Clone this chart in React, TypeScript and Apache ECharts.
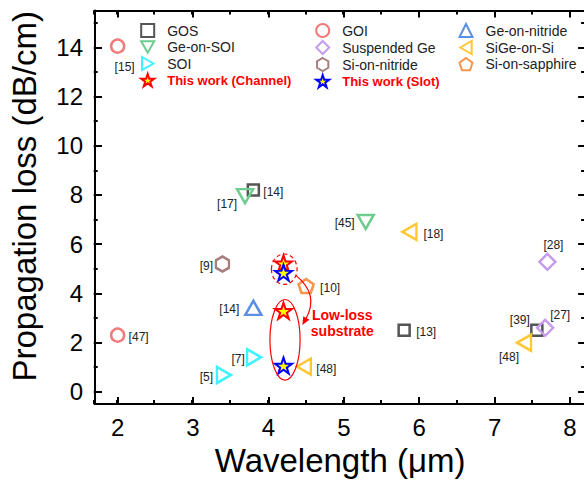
import React, { useEffect, useRef } from 'react';
import * as echarts from 'echarts';

// ---------- data ----------
const GOS_X = [3.8, 5.8, 7.56];
const GOS_Y = [8.2, 2.5, 2.5];
const GOS_REF = ['[14]', '[13]', '[39]'];

const GE_ON_SOI_X = [3.69, 5.29];
const GE_ON_SOI_Y = [7.95, 6.9];
const GE_ON_SOI_REF = ['[17]', '[45]'];

const SOI_X = [3.81, 3.41];
const SOI_Y = [1.4, 0.68];
const SOI_REF = ['[7]', '[5]'];

const GOI_X = [2.0, 2.0];
const GOI_Y = [14.05, 2.3];
const GOI_REF = ['[15]', '[47]'];

const SUSP_GE_X = [7.7, 7.67];
const SUSP_GE_Y = [5.28, 2.6];
const SUSP_GE_REF = ['[28]', '[27]'];

const SI_ON_NITRIDE_X = [3.39];
const SI_ON_NITRIDE_Y = [5.19];
const SI_ON_NITRIDE_REF = ['[9]'];

const GE_ON_NITRIDE_X = [3.8];
const GE_ON_NITRIDE_Y = [3.41];
const GE_ON_NITRIDE_REF = ['[14]'];

const SIGE_X = [5.87, 4.47, 7.39];
const SIGE_Y = [6.5, 1.02, 1.99];
const SIGE_REF = ['[18]', '[48]', '[48]'];

const SAPPHIRE_X = [4.5];
const SAPPHIRE_Y = [4.3];
const SAPPHIRE_REF = ['[10]'];

const CHANNEL_X = [4.2, 4.2];
const CHANNEL_Y = [5.22, 3.29];

const SLOT_X = [4.2, 4.2];
const SLOT_Y = [4.84, 1.06];

const X_MIN = 1.7;
const X_MAX = 8.2;
const Y_MIN = -0.5;
const Y_MAX = 15.5;

// annotations (data coordinates): cx, cy, rx, ry
const DASHED_ELLIPSE = [4.21, 4.98, 0.17, 0.62];
const SOLID_ELLIPSE = [4.22, 2.11, 0.2, 1.64];
const ARROW_START = [4.36, 4.74];
const ARROW_CTRL = [4.68, 3.95];
const ARROW_END = [4.45, 2.71];
const NOTE_POS = [4.98, 2.81];
const NOTE_TEXT = 'Low-loss\nsubstrate';

// ---------- styles ----------
const FONT = 'Liberation Sans, Arial, Helvetica, sans-serif';
const STAR = 'path://M50,0 L61.8,35.1 L98.1,35.1 L68.8,56.8 L79.4,90.9 L50,69.1 L20.6,90.9 L31.2,56.8 L1.9,35.1 L38.2,35.1 Z';
const HEXAGON = 'path://M0,-10 L8.66,-5 L8.66,5 L0,10 L-8.66,5 L-8.66,-5 Z';
const PENTAGON = 'path://M0,-10 L9.51,-3.09 L5.88,8.09 L-5.88,8.09 L-9.51,-3.09 Z';
const TRI_DOWN = 'path://M0,0 L16,0 L8,14 Z';
const TRI_LEFT = 'path://M0,8 L14,0 L14,16 Z';
const TRI_RIGHT = 'path://M0,0 L14,8 L0,16 Z';

type Def = {
  name: string; x: number[]; y: number[]; refs?: string[]; offsets?: number[][];
  symbol: string; size: number | number[]; color: string; fill?: string; bw?: number;
};

const DEFS: Def[] = [
  { name: 'GOS', x: GOS_X, y: GOS_Y, refs: GOS_REF, offsets: [[20, 2], [22, 2], [-17, -10]], symbol: 'rect', size: 11, color: '#555555' },
  { name: 'Ge-on-SOI', x: GE_ON_SOI_X, y: GE_ON_SOI_Y, refs: GE_ON_SOI_REF, offsets: [[-18, 8], [-21, 1]], symbol: TRI_DOWN, size: [16, 14], color: '#6dcd8e' },
  { name: 'SOI', x: SOI_X, y: SOI_Y, refs: SOI_REF, offsets: [[-16, 2], [-17.5, 2]], symbol: TRI_RIGHT, size: [14, 16], color: '#3ff2ff' },
  { name: 'GOI', x: GOI_X, y: GOI_Y, refs: GOI_REF, offsets: [[7, 21], [21, 1.5]], symbol: 'circle', size: 13, color: '#f27a7a' },
  { name: 'Suspended Ge', x: SUSP_GE_X, y: SUSP_GE_Y, refs: SUSP_GE_REF, offsets: [[6, -17], [15, -13]], symbol: 'diamond', size: 16, color: '#c69cec' },
  { name: 'Si-on-nitride', x: SI_ON_NITRIDE_X, y: SI_ON_NITRIDE_Y, refs: SI_ON_NITRIDE_REF, offsets: [[-16, 2]], symbol: HEXAGON, size: [13, 15], color: '#a67e7e' },
  { name: 'Ge-on-nitride', x: GE_ON_NITRIDE_X, y: GE_ON_NITRIDE_Y, refs: GE_ON_NITRIDE_REF, offsets: [[-24, 1]], symbol: 'triangle', size: [16, 14], color: '#5b8fe6' },
  { name: 'SiGe-on-Si', x: SIGE_X, y: SIGE_Y, refs: SIGE_REF, offsets: [[24, 2], [22.5, 2.5], [-15, 14]], symbol: TRI_LEFT, size: [14, 16], color: '#ffc733' },
  { name: 'Si-on-sapphire', x: SAPPHIRE_X, y: SAPPHIRE_Y, refs: SAPPHIRE_REF, offsets: [[24, 2]], symbol: PENTAGON, size: [15, 14], color: '#f8954a' },
  { name: 'This work (Channel)', x: CHANNEL_X, y: CHANNEL_Y, symbol: STAR, size: [17, 16], color: '#ff0000', fill: '#ffff00', bw: 2 },
  { name: 'This work (Slot)', x: SLOT_X, y: SLOT_Y, symbol: STAR, size: [17, 16], color: '#0000ff', fill: '#ffff00', bw: 2 },
];

const LEGEND_COLS = [
  { left: 140.2, items: ['GOS', 'Ge-on-SOI', 'SOI', 'This work (Channel)'] },
  { left: 315.2, items: ['GOI', 'Suspended Ge', 'Si-on-nitride', 'This work (Slot)'] },
  { left: 458.5, items: ['Ge-on-nitride', 'SiGe-on-Si', 'Si-on-sapphire'] },
];

const isInt = (v: number) => Math.abs(v - Math.round(v)) < 1e-6;

function xAxis(gridIndex: number, position: string, major: boolean, labels: boolean) {
  return {
    type: 'value', gridIndex, position, min: X_MIN, max: X_MAX, splitNumber: major ? 5 : 13,
    name: labels ? 'Wavelength (\u03bcm)' : '', nameLocation: 'middle', nameGap: 39,
    nameTextStyle: { fontSize: 33, color: '#000', fontFamily: FONT },
    axisLine: { show: major, onZero: false, lineStyle: { color: '#000', width: 2 } },
    axisTick: { show: true, inside: true, length: major ? 7 : 4, lineStyle: { color: '#000', width: 2 } },
    axisLabel: {
      show: labels, margin: 11, fontSize: 24, color: '#000', fontFamily: FONT,
      showMinLabel: true, showMaxLabel: true,
      formatter: (v: number) => (isInt(v) ? String(Math.round(v)) : ''),
    },
    splitLine: { show: false },
  };
}

function yAxis(gridIndex: number, position: string, major: boolean, labels: boolean) {
  return {
    type: 'value', gridIndex, position, min: Y_MIN, max: Y_MAX, splitNumber: major ? 8 : 16,
    name: labels ? 'Propagation loss (dB/cm)' : '', nameLocation: 'middle', nameGap: 54,
    nameTextStyle: { fontSize: 33, color: '#000', fontFamily: FONT, padding: [0, 0, 0, 22] },
    axisLine: { show: major, onZero: false, lineStyle: { color: '#000', width: 2 } },
    axisTick: { show: true, inside: true, length: major ? 7 : 4, lineStyle: { color: '#000', width: 2 } },
    axisLabel: {
      show: labels, margin: 12, fontSize: 24, color: '#000', fontFamily: FONT,
      formatter: (v: number) => (isInt(v) && Math.round(v) % 2 === 0 && v >= 0 ? String(Math.round(v)) : ''),
    },
    splitLine: { show: false },
  };
}

export default function App() {
  const ref = useRef<HTMLDivElement>(null);

  useEffect(() => {
    if (!ref.current) return;
    document.body.style.overflow = 'hidden';
    const chart = echarts.init(ref.current, undefined, { renderer: 'svg' });
    const gridRect = { left: 93.7, top: 10.5, right: 4.9, bottom: 85 };

    const series = DEFS.map((d) => ({
      type: 'scatter',
      name: d.name,
      xAxisIndex: 0,
      yAxisIndex: 0,
      symbol: d.symbol,
      symbolSize: d.size,
      itemStyle: { color: d.fill || 'rgba(255,255,255,0)', borderColor: d.color, borderWidth: d.bw || 2.5, opacity: 1 },
      emphasis: { disabled: true },
      data: d.x.map((xv, i) => ({
        value: [xv, d.y[i]],
        label: d.refs
          ? { show: true, position: 'inside', offset: (d.offsets || [])[i] || [0, 0], formatter: d.refs[i], fontSize: 12, color: '#222', fontFamily: FONT }
          : { show: false },
      })),
    }));

    chart.setOption({
      animation: false,
      backgroundColor: '#fff',
      grid: [gridRect, gridRect],
      xAxis: [xAxis(0, 'bottom', true, true), xAxis(0, 'top', true, false), xAxis(1, 'bottom', false, false), xAxis(1, 'top', false, false)],
      yAxis: [yAxis(0, 'left', true, true), yAxis(0, 'right', true, false), yAxis(1, 'left', false, false), yAxis(1, 'right', false, false)],
      legend: LEGEND_COLS.map((col) => ({
        orient: 'vertical', left: col.left, top: 23, padding: 0, itemGap: 2, itemWidth: 13, itemHeight: 13,
        selectedMode: false,
        itemStyle: { borderWidth: 2 },
        textStyle: { fontSize: 14, color: '#222', fontFamily: FONT, padding: [0, 0, 0, 8] },
        data: col.items.map((n) =>
          n.startsWith('This work')
            ? { name: n, textStyle: { color: '#ff0000', fontWeight: 'bold', fontSize: 13, fontFamily: FONT, padding: [0, 0, 0, 8] } }
            : n),
      })),
      series,
    });

    const p = (x: number, y: number) => chart.convertToPixel({ seriesIndex: 0 }, [x, y]) as number[];
    const ell = (e: number[], dashed: boolean) => {
      const c = p(e[0], e[1]);
      const rx = p(e[0] + e[2], e[1])[0] - c[0];
      const ry = c[1] - p(e[0], e[1] + e[3])[1];
      return {
        type: 'ellipse', shape: { cx: c[0], cy: c[1], rx, ry },
        style: { fill: 'none', stroke: '#ff0000', lineWidth: 1.2, lineDash: dashed ? [4, 3] : null },
        silent: true, z: 10,
      };
    };
    const s = p(ARROW_START[0], ARROW_START[1]);
    const c = p(ARROW_CTRL[0], ARROW_CTRL[1]);
    const e = p(ARROW_END[0], ARROW_END[1]);
    const dx = e[0] - c[0];
    const dy = e[1] - c[1];
    const len = Math.sqrt(dx * dx + dy * dy) || 1;
    const ux = dx / len;
    const uy = dy / len;
    const headL = 8;
    const headW = 3.5;
    const base = [e[0] - ux * headL, e[1] - uy * headL];
    const note = p(NOTE_POS[0], NOTE_POS[1]);

    chart.setOption({
      graphic: [
        ell(DASHED_ELLIPSE, true),
        ell(SOLID_ELLIPSE, false),
        {
          type: 'bezierCurve', silent: true, z: 10,
          shape: { x1: s[0], y1: s[1], cpx1: c[0], cpy1: c[1], x2: base[0] + ux * 1, y2: base[1] + uy * 1 },
          style: { stroke: '#ff0000', lineWidth: 1.2, fill: 'none' },
        },
        {
          type: 'polygon', silent: true, z: 10,
          shape: { points: [[e[0], e[1]], [base[0] - uy * headW, base[1] + ux * headW], [base[0] + uy * headW, base[1] - ux * headW]] },
          style: { fill: '#ff0000' },
        },
        {
          type: 'text', silent: true, z: 10, x: note[0], y: note[1],
          style: { text: NOTE_TEXT, fill: '#ff0000', fontSize: 14, fontWeight: 'bold', fontFamily: FONT, align: 'center', verticalAlign: 'middle', lineHeight: 16 },
        },
      ],
    });

    return () => chart.dispose();
  }, []);

  return <div ref={ref} style={{ position: 'absolute', left: 0, top: 0, width: 590, height: 489 }} />;
}
